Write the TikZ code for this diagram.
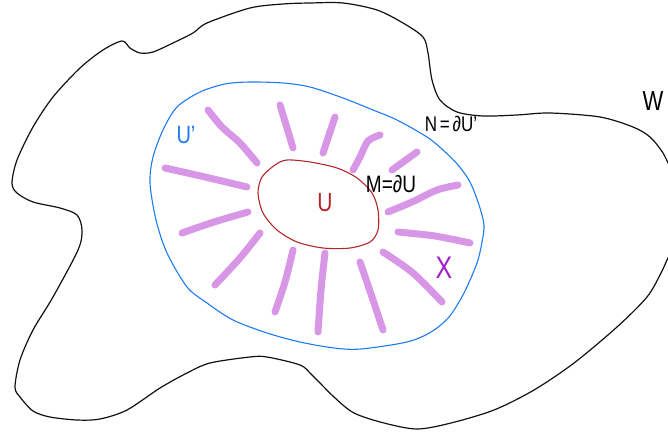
\documentclass[tikz,border=0pt]{standalone}
\usepackage{fontspec}
\setmainfont{Liberation Sans}
\usetikzlibrary{positioning}
\definecolor{Ink}{HTML}{111111}
\definecolor{Sky}{HTML}{1E7BEF}
\definecolor{Brick}{HTML}{B3262A}
\definecolor{Orchid}{HTML}{D896E6}
\definecolor{Plum}{HTML}{A020C8}
\tikzset{
  region/.style={draw=Ink, line width=1.2pt},
  nbhd/.style={draw=Sky, line width=1.1pt},
  inner/.style={draw=Brick, line width=1.1pt},
  collar/.style={draw=Orchid, line width=7pt, line cap=round},
  tag/.style={inner sep=0pt, yscale=1.25}
}

\begin{document}
\begin{tikzpicture}[x=1pt,y=-1pt]
    \useasboundingbox (0,0) rectangle (668,435);
    \clip (0,0) rectangle (668,435);
    % the big region W
    \draw[region] plot[smooth] coordinates {(672,172) (663,153) (650,137) (633,127) (600,117)
      (550,113) (517,115) (483,116) (457,112) (440,100) (432,80) (428,53) (423,37) (403,23)
      (377,10) (343,3) (310,3) (283,4) (250,8) (207,23) (193,33) (173,43) (153,52) (140,53)
      (130,48) (122,41) (103,50) (80,68) (53,97) (33,127) (17,160) (12,183) (17,193) (33,202)
      (60,208) (77,215) (82,230) (78,250) (53,297) (33,330) (20,360) (15,387) (20,397) (33,411)
      (50,417) (77,420) (100,419) (127,410) (160,388) (187,373) (210,363) (250,357) (267,357)
      (300,365) (312,375) (334,397) (354,413) (384,423) (417,429) (451,423) (494,410) (534,390)
      (574,363) (617,327) (647,297) (661,273) (667,260) (672,250)};
    % U' and its boundary N
    \draw[nbhd] plot[smooth cycle] coordinates {(250,82) (283,83) (310,87) (343,98) (373,110)
      (397,120) (427,137) (443,150) (458,165) (470,182) (479,205) (484,225) (482,242) (477,263)
      (464,293) (449,317) (431,332) (407,342) (361,349) (334,348) (300,342) (267,333) (233,320)
      (207,303) (187,287) (167,253) (156,220) (150,183) (153,157) (163,130) (177,107) (200,92)
      (225,84)};
    % U and its boundary M
    \draw[inner] plot[smooth cycle] coordinates {(275,165) (287,160) (310,162) (337,168)
      (357,178) (372,193) (378,210) (378,230) (370,242) (350,248) (323,248) (297,242) (277,230)
      (263,213) (258,193) (262,177)};
    % the collar strokes
    \draw[collar] plot[smooth] coordinates {(208,110) (222,127) (240,143) (257,163)};
    \draw[collar] plot[smooth] coordinates {(280,105) (287,128) (293,148)};
    \draw[collar] plot[smooth] coordinates {(335,117) (329,135) (323,153)};
    \draw[collar] plot[smooth] coordinates {(380,135) (368,141) (360,157) (353,170)};
    \draw[collar] plot[smooth] coordinates {(417,152) (392,170)};
    \draw[collar] plot[smooth] coordinates {(165,168) (205,177) (247,187)};
    \draw[collar] plot[smooth] coordinates {(458,185) (437,190) (412,202) (388,212)};
    \draw[collar] plot[smooth] coordinates {(248,212) (214,222) (182,233)};
    \draw[collar] plot[smooth] coordinates {(398,232) (435,236) (470,243)};
    \draw[collar] plot[smooth] coordinates {(260,233) (240,258) (215,285)};
    \draw[collar] plot[smooth] coordinates {(383,252) (413,273) (442,302)};
    \draw[collar] plot[smooth] coordinates {(293,250) (285,282) (275,312)};
    \draw[collar] plot[smooth] coordinates {(325,253) (321,290) (318,332)};
    \draw[collar] plot[smooth] coordinates {(360,262) (372,297) (383,330)};
    % labels
    \node[tag, font=\fontsize{17}{17}\selectfont] (nlab) at (451,124) {N\,=\,∂U'};
    \node[tag, font=\fontsize{19}{19}\selectfont] (mlab) at (391,184) {M=∂U};
    \node[tag, text=Sky, font=\fontsize{20}{20}\selectfont] (uplab) at (186,135) {U'};
    \node[tag, text=Brick, font=\fontsize{21}{21}\selectfont] (ulab) at (325,203) {U};
    \node[tag, font=\fontsize{22}{22}\selectfont] (wlab) at (653,101) {W};
    \node[tag, text=Plum, font=\fontsize{25}{25}\selectfont] (xlab) at (444,268) {X};
\end{tikzpicture}
\end{document}
